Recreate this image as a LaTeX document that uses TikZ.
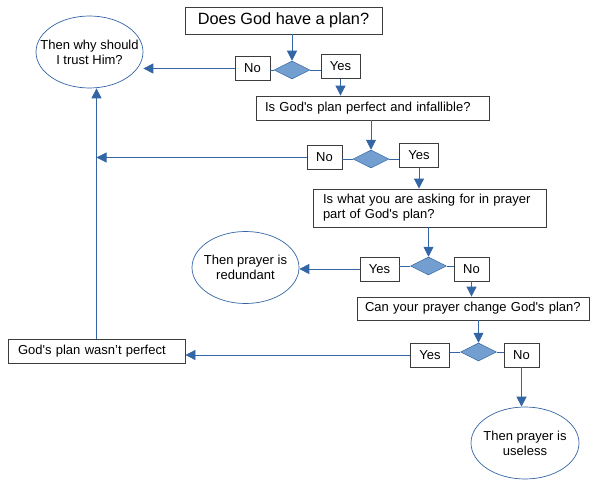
\documentclass[tikz,border=0pt]{standalone}
\usepackage{fontspec}
\setmainfont{Liberation Sans}
\usetikzlibrary{shapes.geometric,arrows.meta}

\definecolor{flowblue}{RGB}{52,101,164}
\definecolor{decfill}{RGB}{114,159,207}
\definecolor{boxline}{RGB}{60,60,60}

\begin{document}
\begin{tikzpicture}[x=1pt,y=-1pt,
    qbox/.style={draw=boxline, line width=0.8pt, fill=white, inner ysep=0pt, align=left, font=\fontsize{13}{15}\selectfont},
    ans/.style={draw=boxline, line width=0.8pt, fill=white, inner sep=0pt, minimum height=24pt, font=\fontsize{13}{15}\selectfont},
    nobox/.style={ans, minimum width=35pt},
    yesbox/.style={ans, minimum width=39pt},
    dec/.style={diamond, draw=flowblue, fill=decfill, line width=0.5pt, inner sep=0pt, minimum width=36pt, minimum height=18pt},
    oval/.style={ellipse, draw=flowblue, line width=0.7pt, fill=white, inner sep=0pt, minimum width=107pt, minimum height=72pt},
    otext/.style={align=center, font=\fontsize{13}{15}\selectfont},
    link/.style={draw=flowblue, line width=0.8pt},
    arr/.style={link, -{Triangle[length=10pt,width=10pt]}}]
    \useasboundingbox (0,0) rectangle (602,495);

    % Questions
    \node[draw=boxline, line width=0.8pt, minimum width=197pt, minimum height=27pt, inner sep=0pt,
          font=\fontsize{16.3}{19}\selectfont] (q1) at (283.5,20.5) {Does God have a plan?};
    \node[qbox, inner xsep=9pt, text width=215pt, minimum height=24pt] (q2) at (372.5,108)
        {Is God\textquotesingle s plan perfect and infallible?};
    \node[qbox, inner xsep=10pt, text width=213pt, minimum height=38pt] (q3) at (429.5,208)
        {Is what you are asking for in prayer\\part of God\textquotesingle s plan?};
    \node[qbox, inner xsep=8pt, text width=216pt, minimum height=23pt] (q4) at (473,308.5)
        {Can your prayer change God\textquotesingle s plan?};
    \node[qbox, inner xsep=10pt, text width=157pt, minimum height=24pt] (r1) at (96.5,351)
        {God\textquotesingle s plan wasn’t perfect};

    % Decisions
    \node[dec] (d1) at (292,70) {};
    \node[dec] (d2) at (371,159) {};
    \node[dec] (d3) at (428.5,266) {};
    \node[dec] (d4) at (478.5,352) {};

    % Answers
    \node[nobox] (n1) at (252.5,68.5) {No};
    \node[yesbox] (y1) at (340.5,66.5) {Yes};
    \node[nobox] (n2) at (324.5,157.5) {No};
    \node[yesbox] (y2) at (419,155.5) {Yes};
    \node[yesbox] (y3) at (379.5,269) {Yes};
    \node[nobox] (n3) at (471.5,269) {No};
    \node[yesbox] (y4) at (430,355) {Yes};
    \node[nobox] (n4) at (521.5,355) {No};

    % Ends
    \node[oval] (e1) at (89.5,52) {};
    \node[otext] (e1t) at (e1) {Then why should\\I trust Him?};
    \node[oval] (e2) at (245.5,267.5) {};
    \node[otext] (e2t) at (e2) {Then prayer is\\redundant};
    \node[oval, minimum width=108pt] (e3) at (525,443) {};
    \node[otext] (e3t) at (e3) {Then prayer is\\useless};

    % First question
    \draw[arr] (q1.south -| d1) -- (d1.north);
    \draw[link] (d1.west) -- (d1.west -| n1.east);
    \draw[link] (d1.east) -- (d1.east -| y1.west);
    \draw[arr] (n1.west) -- (n1.west -| e1.east);
    \draw[arr] (y1.south) -- (y1.south |- q2.north);

    % Second question
    \draw[arr] (q2.south -| d2) -- (d2.north);
    \draw[link] (d2.west) -- (d2.west -| n2.east);
    \draw[link] (d2.east) -- (d2.east -| y2.west);
    \draw[arr] (n2.west) -- (n2.west -| r1.north);
    \draw[arr] (y2.south) -- (y2.south |- q3.north);

    % Third question
    \draw[arr] (q3.south -| d3) -- (d3.north);
    \draw[link] (d3.west) -- (d3.west -| y3.east);
    \draw[link] (d3.east) -- (d3.east -| n3.west);
    \draw[arr] (y3.west) -- (y3.west -| e2.east);
    \draw[arr] (n3.south) -- (n3.south |- q4.north);

    % Fourth question
    \draw[arr] (q4.south -| d4) -- (d4.north);
    \draw[link] (d4.west) -- (d4.west -| y4.east);
    \draw[link] (d4.east) -- (d4.east -| n4.west);
    \draw[arr] (y4.west) -- (y4.west -| r1.east);
    \draw[arr] (n4.south) -- (n4.south |- e3.north);

    % Back up the left side
    \draw[arr] (r1.north) -- (r1.north |- e1.south);
\end{tikzpicture}
\end{document}
